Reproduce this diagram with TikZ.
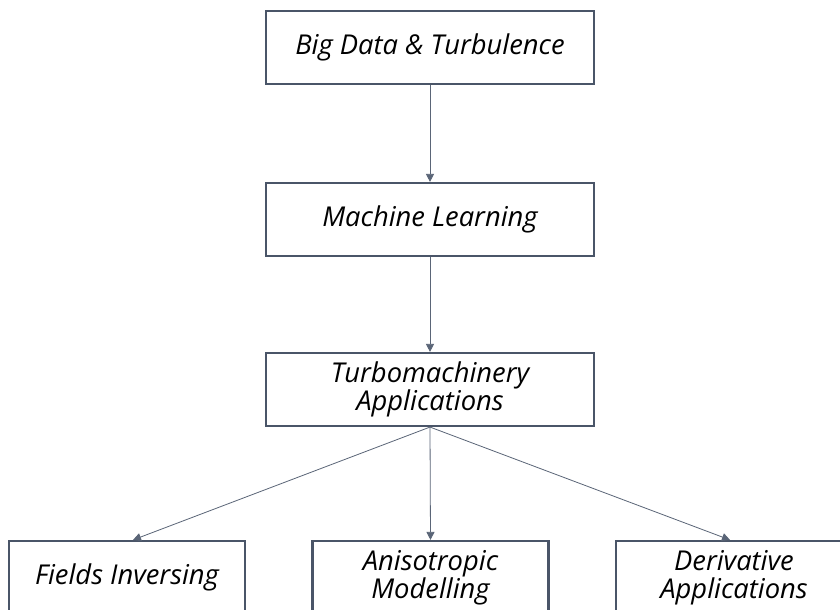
\documentclass[tikz,border=0pt]{standalone}
\usepackage{fontspec}
\setmainfont{Open Sans}
\usetikzlibrary{arrows.meta}
\definecolor{boxline}{HTML}{4A5568}
\definecolor{linkline}{HTML}{5A6577}
\tikzset{
  box/.style={draw=boxline, line width=1.6pt, fill=white, inner sep=0pt,
    minimum width=246pt, minimum height=54.75pt, align=center,
    font=\fontsize{20.5}{21}\selectfont\itshape},
  leaf/.style={box, minimum width=177pt},
  link/.style={draw=linkline, line width=0.6pt, -{Triangle[width=6pt,length=6pt]}}
}
\begin{document}
\begin{tikzpicture}[x=0.75pt,y=-0.75pt]
  \useasboundingbox (0,0) rectangle (840,610);
  \clip (0,0) rectangle (840,610);
  \fill[white] (0,0) rectangle (840,610);
  \node[box] (bigdata) at (430,47.5) {Big Data \& Turbulence};
  \node[box] (ml) at (430,219.5) {Machine Learning};
  \node[box] (turbo) at (430,389.5) {Turbomachinery\\Applications};
  \node[leaf] (fields) at (127,577.5) {Fields Inversing};
  \node[leaf] (aniso) at (430.5,577.5) {Anisotropic\\Modelling};
  \node[leaf] (deriv) at (734,577.5) {Derivative\\Applications};
  \draw[link] (bigdata) -- (ml);
  \draw[link] (ml) -- (turbo);
  \draw[link] (turbo.south) -- ([xshift=4.5pt]fields.north);
  \draw[link] (turbo.south) -- (aniso.north);
  \draw[link] (turbo.south) -- ([xshift=-3pt]deriv.north);
\end{tikzpicture}
\end{document}
